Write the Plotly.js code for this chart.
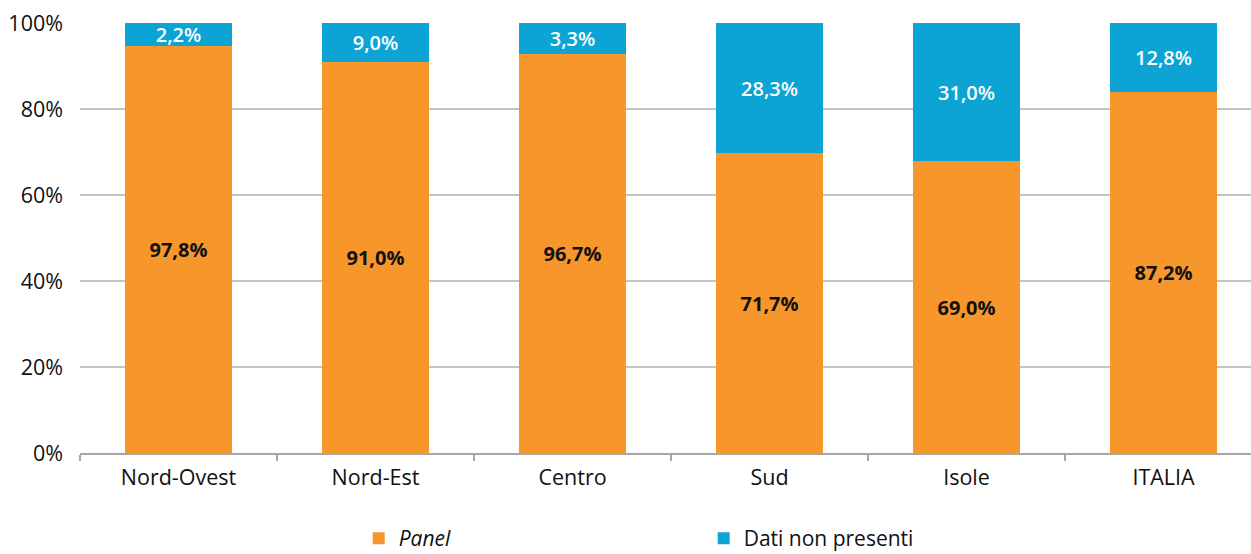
<!DOCTYPE html>
<html>
<head>
<meta charset="utf-8">
<script src="https://cdn.plot.ly/plotly-3.0.1.min.js"></script>
<style>html,body{margin:0;padding:0;background:#fff;}#chart{width:1251px;height:554px;}</style>
</head>
<body>
<div id="chart"></div>
<script>
var categories = ["Nord-Ovest", "Nord-Est", "Centro", "Sud", "Isole", "ITALIA"];
// bar heights as drawn in the picture
var panelValues = [94.6, 90.9, 92.9, 69.7, 67.9, 84.0];
var missingValues = [5.4, 9.1, 7.1, 30.3, 32.1, 16.0];
// printed labels
var panelLabels = ["97,8%", "91,0%", "96,7%", "71,7%", "69,0%", "87,2%"];
var missingLabels = ["2,2%", "9,0%", "3,3%", "28,3%", "31,0%", "12,8%"];
var yTickVals = [0, 20, 40, 60, 80, 100];
var yTickText = ["0%", "20%", "40%", "60%", "80%", "100%"];

var FONT = "'Open Sans', 'Noto Sans', sans-serif";

var traces = [
  {
    type: "bar", name: "<i>Panel</i>", x: categories, y: panelValues,
    text: panelLabels, textposition: "inside", insidetextanchor: "middle",
    constraintext: "none", textangle: 0,
    textfont: {family: FONT, size: 20, color: "#111111", weight: 700},
    marker: {color: "#F7962A"}, width: 0.543, hoverinfo: "skip"
  },
  {
    type: "bar", name: "Dati non presenti", x: categories, y: missingValues,
    text: missingLabels, textposition: "inside", insidetextanchor: "middle",
    constraintext: "none", textangle: 0,
    textfont: {family: FONT, size: 20, color: "#ffffff", weight: 600},
    marker: {color: "#0CA4D4"}, width: 0.543, hoverinfo: "skip"
  }
];

var layout = {
  width: 1251, height: 554,
  barmode: "stack",
  margin: {l: 80, r: 0, t: 23, b: 101},
  paper_bgcolor: "#ffffff", plot_bgcolor: "#ffffff",
  font: {family: FONT, size: 20, color: "#111111"},
  showlegend: true,
  legend: {
    orientation: "h", x: 0.238, xanchor: "left",
    yref: "container", y: 0.028, yanchor: "middle",
    entrywidth: 300, entrywidthmode: "pixels",
    font: {family: FONT, size: 21, color: "#111111"}, traceorder: "normal"
  },
  xaxis: {
    type: "category", range: [-0.5, 5.444],
    showgrid: false, showline: true, linecolor: "#a6a6a6", linewidth: 1.5,
    ticks: "outside", tickson: "boundaries", ticklen: 6, tickcolor: "#a6a6a6", tickwidth: 1.5,
    ticklabelstandoff: 5, automargin: false,
    tickfont: {family: FONT, size: 21.5, color: "#111111"}, zeroline: false, fixedrange: true
  },
  yaxis: {
    range: [0, 100], tickmode: "array", tickvals: yTickVals, ticktext: yTickText,
    showgrid: true, gridcolor: "#c4c4c4", gridwidth: 1.5, zeroline: false, showline: false,
    ticks: "", ticklabelstandoff: 16, automargin: false,
    tickfont: {family: FONT, size: 21.5, color: "#111111"}, fixedrange: true
  }
};

Plotly.newPlot("chart", traces, layout, {displayModeBar: false, staticPlot: true});
</script>
</body>
</html>
